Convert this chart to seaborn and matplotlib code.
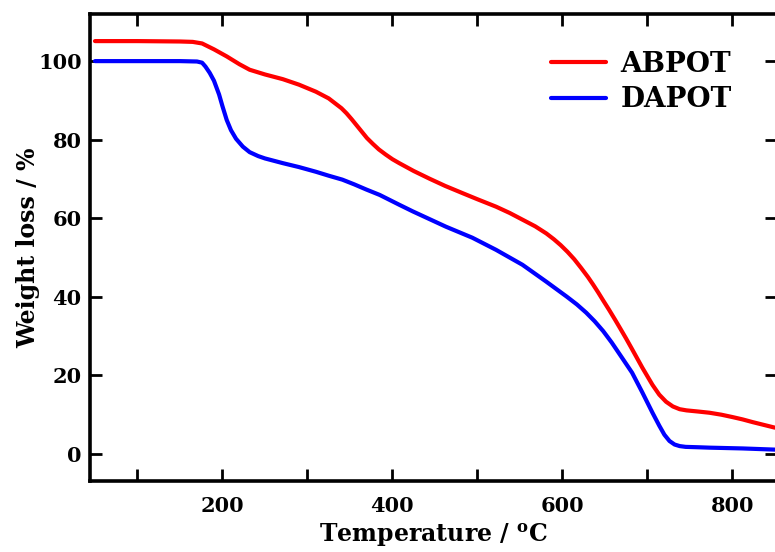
import pandas as pd
import numpy as np
import matplotlib
matplotlib.use("Agg")
import matplotlib.pyplot as plt
import seaborn as sns

# TGA curves
abpot_temp = [50, 100, 150, 165, 176, 190, 205, 220, 232, 250, 271, 290, 310, 325,
              340, 346, 352, 358, 364, 370, 377, 384, 392, 400, 408, 425, 444, 462,
              482, 500, 522, 538, 553, 568, 581, 590, 598, 606, 614, 622, 630, 636,
              642, 648, 655, 662, 668, 675, 682, 694, 706, 714, 722, 730, 738, 746,
              760, 773, 787, 800, 812, 824, 837, 850]
abpot_wt = [105.1, 105.1, 105.0, 104.9, 104.5, 103.0, 101.2, 99.2, 97.8, 96.6, 95.4,
            94.0, 92.2, 90.5, 88.0, 86.7, 85.2, 83.6, 82.0, 80.4, 78.9, 77.5, 76.2,
            75.0, 74.0, 72.0, 70.0, 68.2, 66.4, 64.8, 62.9, 61.3, 59.6, 57.9, 56.1,
            54.6, 53.1, 51.4, 49.5, 47.3, 45.0, 43.1, 41.1, 39.0, 36.6, 34.1, 31.9,
            29.3, 26.6, 21.9, 17.5, 15.0, 13.2, 12.0, 11.3, 11.0, 10.7, 10.4, 9.9,
            9.3, 8.7, 8.0, 7.3, 6.6]

dapot_temp = [50, 100, 150, 170, 176, 180, 185, 190, 196, 200, 205, 210, 216, 224,
              232, 242, 250, 271, 290, 310, 325, 341, 355, 369, 385, 408, 424, 444,
              463, 494, 522, 553, 581, 605, 617, 628, 638, 648, 658, 668, 682, 694,
              706, 714, 720, 726, 732, 738, 745, 760, 773, 812, 850]
dapot_wt = [100.0, 100.0, 100.0, 99.9, 99.6, 98.6, 97.0, 95.0, 91.5, 88.5, 85.0,
            82.4, 80.2, 78.2, 76.8, 75.8, 75.2, 74.0, 73.0, 71.8, 70.8, 69.8, 68.6,
            67.3, 65.9, 63.4, 61.7, 59.7, 57.8, 55.0, 51.9, 48.1, 43.8, 40.0, 38.0,
            35.9, 33.7, 31.2, 28.3, 25.1, 20.6, 15.6, 10.4, 7.1, 4.8, 3.2, 2.3, 1.9,
            1.7, 1.6, 1.5, 1.3, 1.0]

series_names = ["ABPOT", "DAPOT"]
series_colors = ["#ff0000", "#0000ff"]
x_ticks = [100, 200, 300, 400, 500, 600, 700, 800]
x_tick_labels = ["", "200", "", "400", "", "600", "", "800"]
y_ticks = [0, 20, 40, 60, 80, 100]

df = pd.concat([
    pd.DataFrame({"temp": abpot_temp, "wt": abpot_wt, "sample": series_names[0]}),
    pd.DataFrame({"temp": dapot_temp, "wt": dapot_wt, "sample": series_names[1]}),
], ignore_index=True)

sns.set_style("ticks", {"axes.edgecolor": "black", "text.color": "black",
                        "xtick.color": "black", "ytick.color": "black",
                        "axes.labelcolor": "black"})
plt.rcParams["font.family"] = ["DejaVu Serif"]
plt.rcParams["font.weight"] = "bold"
plt.rcParams["mathtext.fontset"] = "dejavuserif"

fig = plt.figure(figsize=(7.75, 5.52), dpi=100)
ax = fig.add_axes([0.116, 0.1286, 0.886, 0.846])

sns.lineplot(data=df, x="temp", y="wt", hue="sample", palette=series_colors,
             linewidth=3.0, sort=False, estimator=None, ax=ax)

ax.set_xlim(44, 852)
ax.set_ylim(-7, 112)
ax.set_xticks(x_ticks)
ax.set_xticklabels(x_tick_labels)
ax.set_yticks(y_ticks)

ax.tick_params(axis="both", direction="in", top=True, right=True,
               length=8.5, width=2.0, labelsize=15, colors="black")
ax.tick_params(axis="x", pad=11)
ax.tick_params(axis="y", pad=6)
for lab in ax.get_xticklabels() + ax.get_yticklabels():
    lab.set_fontweight("bold")
for sp in ax.spines.values():
    sp.set_linewidth(2.6)
    sp.set_color("black")

ax.set_xlabel(r"Temperature / $^{\mathbf{o}}$C", fontsize=17, fontweight="bold",
              labelpad=4, color="black")
ax.set_ylabel("Weight loss / %", fontsize=17, fontweight="bold", labelpad=-2,
              color="black")

leg = ax.legend(loc="upper right", frameon=False, fontsize=20, handlelength=2.0,
                handletextpad=0.5, labelspacing=0.3, borderaxespad=0.6,
                bbox_to_anchor=(0.975, 0.98))
for line in leg.get_lines():
    line.set_linewidth(3.0)
for t in leg.get_texts():
    t.set_fontweight("bold")
    t.set_color("black")

fig.savefig("out.png", dpi=100)
